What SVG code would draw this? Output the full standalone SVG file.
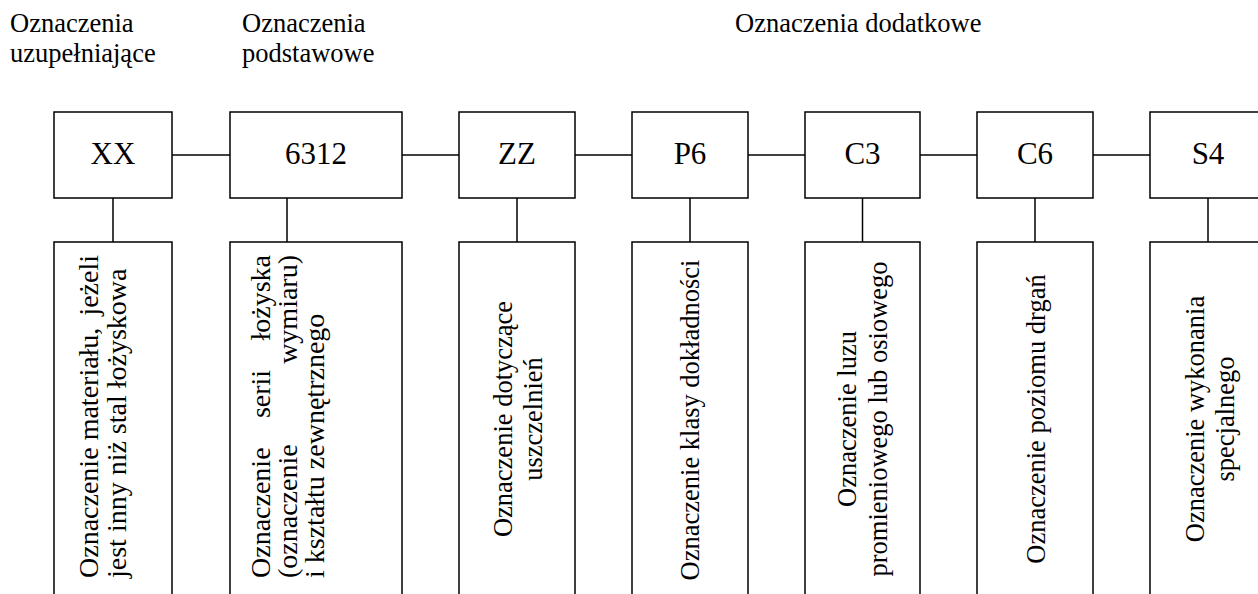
<svg xmlns="http://www.w3.org/2000/svg" width="1258" height="594" viewBox="0 0 1258 594">
<style>
.t{font-family:"Liberation Serif","Times New Roman",serif;fill:#000}
.lbl{font-size:26.5px}
.big{font-size:31px;text-anchor:middle}
.v{font-size:26.5px}
.v2{font-size:28px}
.box{fill:#fff;stroke:#000;stroke-width:1.5}
.ln{stroke:#000;stroke-width:1.5;fill:none}
.m{text-anchor:middle}
.e{text-anchor:end}
</style>
<rect width="1258" height="594" fill="#fff"/>
<g id="headers" class="t lbl">
<text x="10" y="31.7">Oznaczenia</text>
<text x="10" y="61.7">uzupełniające</text>
<text x="242" y="31.7">Oznaczenia</text>
<text x="242" y="61.7">podstawowe</text>
<text x="735" y="31.7">Oznaczenia dodatkowe</text>
</g>
<g id="connectors" class="ln">
<line x1="172" y1="155" x2="230" y2="155"/>
<line x1="402" y1="155" x2="459" y2="155"/>
<line x1="575" y1="155" x2="632" y2="155"/>
<line x1="748" y1="155" x2="805" y2="155"/>
<line x1="920" y1="155" x2="977" y2="155"/>
<line x1="1093" y1="155" x2="1150" y2="155"/>
<line x1="113" y1="198" x2="113" y2="242"/>
<line x1="287" y1="198" x2="287" y2="242"/>
<line x1="517" y1="198" x2="517" y2="242"/>
<line x1="690" y1="198" x2="690" y2="242"/>
<line x1="862.5" y1="198" x2="862.5" y2="242"/>
<line x1="1035" y1="198" x2="1035" y2="242"/>
<line x1="1208" y1="198" x2="1208" y2="242"/>
</g>
<g id="node-xx">
<rect class="box" x="54" y="112" width="118" height="86"/>
<text class="t big" x="113" y="164">XX</text>
</g>
<g id="node-6312">
<rect class="box" x="230" y="112" width="172" height="86"/>
<text class="t big" x="316" y="164">6312</text>
</g>
<g id="node-zz">
<rect class="box" x="459" y="112" width="116" height="86"/>
<text class="t big" x="517" y="164">ZZ</text>
</g>
<g id="node-p6">
<rect class="box" x="632" y="112" width="116" height="86"/>
<text class="t big" x="690" y="164">P6</text>
</g>
<g id="node-c3">
<rect class="box" x="805" y="112" width="115" height="86"/>
<text class="t big" x="862.5" y="164">C3</text>
</g>
<g id="node-c6">
<rect class="box" x="977" y="112" width="116" height="86"/>
<text class="t big" x="1035" y="164">C6</text>
</g>
<g id="node-s4">
<rect class="box" x="1150" y="112" width="116" height="86"/>
<text class="t big" x="1208" y="164">S4</text>
</g>
<g id="desc-xx">
<rect class="box" x="54" y="242" width="118" height="380"/>
<g class="t v2" transform="rotate(-90)">
<text x="-578" y="98">Oznaczenie</text>
<text class="m" x="-384" y="98">materiału,</text>
<text class="e" x="-255" y="98">jeżeli</text>
<text x="-578" y="126">jest inny niż stal łożyskowa</text>
</g>
</g>
<g id="desc-6312">
<rect class="box" x="230" y="242" width="172" height="380"/>
<g class="t v2" transform="rotate(-90)">
<text x="-578" y="270">Oznaczenie</text>
<text class="m" x="-394" y="270">serii</text>
<text class="e" x="-255" y="270">łożyska</text>
<text x="-578" y="297">(oznaczenie</text>
<text class="e" x="-255" y="297">wymiaru)</text>
<text x="-578" y="324">i kształtu zewnętrznego</text>
</g>
</g>
<g id="desc-zz">
<rect class="box" x="459" y="242" width="116" height="380"/>
<g class="t v m" transform="rotate(-90)">
<text x="-419" y="511.7">Oznaczenie dotyczące</text>
<text x="-419" y="541.7">uszczelnień</text>
</g>
</g>
<g id="desc-p6">
<rect class="box" x="632" y="242" width="116" height="380"/>
<g class="t v m" transform="rotate(-90)">
<text x="-420" y="698.5">Oznaczenie klasy dokładności</text>
</g>
</g>
<g id="desc-c3">
<rect class="box" x="805" y="242" width="115" height="380"/>
<g class="t v m" transform="rotate(-90)">
<text x="-419" y="856">Oznaczenie luzu</text>
<text x="-419" y="887">promieniowego lub osiowego</text>
</g>
</g>
<g id="desc-c6">
<rect class="box" x="977" y="242" width="116" height="380"/>
<g class="t v m" transform="rotate(-90)">
<text x="-419" y="1044.5">Oznaczenie poziomu drgań</text>
</g>
</g>
<g id="desc-s4">
<rect class="box" x="1150" y="242" width="116" height="380"/>
<g class="t v m" transform="rotate(-90)">
<text x="-419" y="1204">Oznaczenie wykonania</text>
<text x="-419" y="1234">specjalnego</text>
</g>
</g>
</svg>
